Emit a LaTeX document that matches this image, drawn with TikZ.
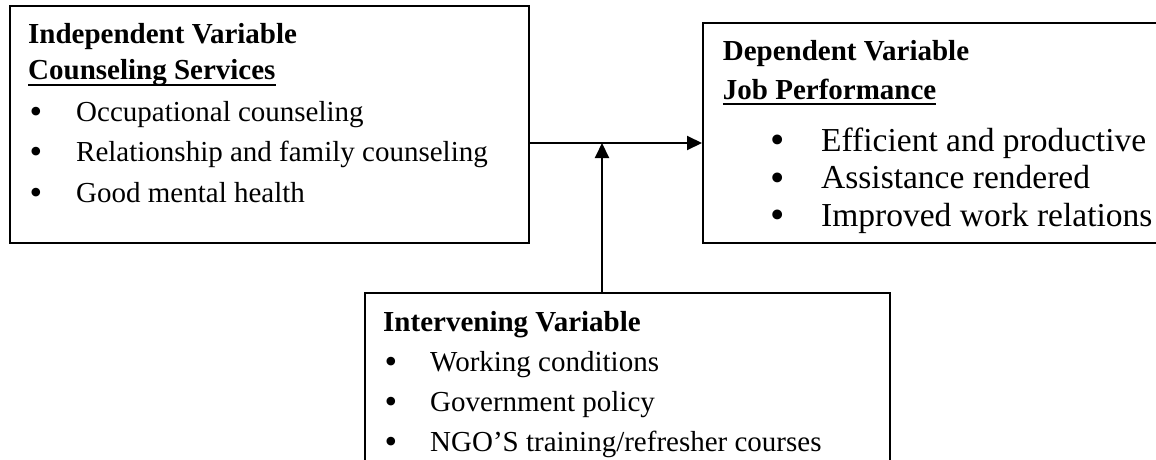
\documentclass[tikz,border=0pt]{standalone}
\usepackage{fontspec}
\setmainfont{Liberation Serif}
\usetikzlibrary{arrows.meta}
\newcommand\myul[1]{\setbox0\hbox{#1}\rlap{\rule[-0.2em]{\wd0}{0.07em}}\box0}
\tikzset{
  boxstyle/.style={draw, line width=1.6pt, rectangle, inner sep=0pt, anchor=north west},
  conn/.style={line width=2pt, -{Triangle[length=15pt,width=14pt]}},
  txt/.style={anchor=base west, inner sep=0pt, font=\fontsize{29}{34}\selectfont},
  hd/.style={anchor=base west, inner sep=0pt, font=\fontsize{29}{34}\selectfont\bfseries},
  bigtxt/.style={anchor=base west, inner sep=0pt, font=\fontsize{33.5}{38}\selectfont},
  bul/.style={anchor=base, inner sep=0pt, font=\fontsize{36}{40}\selectfont},
  bigbul/.style={anchor=base, inner sep=0pt, font=\fontsize{41}{46}\selectfont},
}
\begin{document}
\begin{tikzpicture}[x=1pt,y=-1pt]
\useasboundingbox (0,0) rectangle (1156,460);
\fill[white] (0,0) rectangle (1156,460);
\clip (0,0) rectangle (1156,460);

% boxes
\node[boxstyle, minimum width=519pt, minimum height=237pt] (indep) at (9,5) {};
\node[boxstyle, minimum width=520pt, minimum height=220pt] (dep) at (702,22) {};
\node[boxstyle, minimum width=525pt, minimum height=200pt] (interv) at (364,292) {};

% connectors
\coordinate (join) at (602,143);
\draw[conn] (indep.east |- join) -- (dep.west |- join);
\draw[conn] (interv.north -| join) -- (join);

% independent variable
\node[hd] (ih1) at (28,44) {Independent Variable};
\node[hd] (ih2) at (28,80) {\myul{Counseling Services}};
\node[bul] (ib1) at (36,123.5) {•};
\node[txt] (it1) at (76,121.5) {Occupational counseling};
\node[bul] (ib2) at (36,163) {•};
\node[txt] (it2) at (76,161) {Relationship and family counseling};
\node[bul] (ib3) at (36,204) {•};
\node[txt] (it3) at (76,202) {Good mental health};

% dependent variable
\node[hd] (dh1) at (722.7,61) {Dependent Variable};
\node[hd] (dh2) at (722.7,99.5) {\myul{Job Performance}};
\node[bigbul] (db1) at (777.6,153.5) {•};
\node[bigtxt] (dt1) at (821,151) {Efficient and productive};
\node[bigbul] (db2) at (777.6,191) {•};
\node[bigtxt] (dt2) at (821,188.5) {Assistance rendered};
\node[bigbul] (db3) at (777.6,228.5) {•};
\node[bigtxt] (dt3) at (821,226) {Improved work relations};

% intervening variable
\node[hd] (vh1) at (383,331) {Intervening Variable};
\node[bul] (vb1) at (391,373) {•};
\node[txt] (vt1) at (430,371) {Working conditions};
\node[bul] (vb2) at (391,413) {•};
\node[txt] (vt2) at (430,411) {Government policy};
\node[bul] (vb3) at (391,453) {•};
\node[txt] (vt3) at (430,451) {NGO’S training/refresher courses};
\end{tikzpicture}
\end{document}
